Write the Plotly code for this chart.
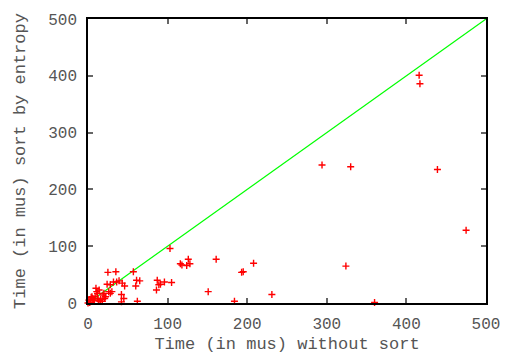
import plotly.graph_objects as go

# Time without sort (x) vs time sorted by entropy (y), in microseconds
time_without_sort = [
    416, 417, 439, 294, 330, 475, 161, 193, 195, 208, 324, 151, 184, 231, 360,
    103, 126, 116, 118, 128, 124, 87, 96, 91, 89, 105, 86, 65,
    25, 35, 57, 24, 28, 39, 43, 46, 60, 61, 14, 12, 10, 20, 26, 28, 42, 45, 42, 62,
    5, 1, 7, 16, 22, 0, 3, 12, 18, 32, 36, 30, 21, 19, 11, 4, 6, 8, 9, 2, 13, 15,
]
time_sort_entropy = [
    401, 386, 235, 243, 240, 128, 77, 54, 55, 70, 65, 20, 3, 15, 1,
    96, 77, 69, 67, 69, 66, 40, 37, 33, 32, 36, 23, 39,
    54, 55, 55, 33, 32, 39, 35, 30, 30, 40, 23, 17, 26, 17, 20, 17, 15, 8, 2, 3,
    11, 5, 5, 6, 11, 0, 2, 8, 3, 37, 37, 20, 8, 14, 20, 10, 8, 5, 12, 1, 4, 3,
]
diag_x = [0, 500]
diag_y = [0, 500]
tick_vals = [0, 100, 200, 300, 400, 500]

fig = go.Figure()
fig.add_trace(go.Scatter(
    x=diag_x, y=diag_y, mode="lines",
    line=dict(color="#00ff00", width=1.2),
    showlegend=False, hoverinfo="skip",
))
fig.add_trace(go.Scatter(
    x=time_without_sort, y=time_sort_entropy, mode="markers",
    marker=dict(symbol="cross-thin", size=5, line=dict(color="#ff0000", width=1.4), color="#ff0000"),
    cliponaxis=False, showlegend=False,
))

font_family = "Liberation Mono, Courier New, monospace"
axis_common = dict(
    range=[0, 500], tickvals=tick_vals, ticktext=[str(v) for v in tick_vals],
    showgrid=False, zeroline=False, showline=True, linecolor="black", linewidth=1.5,
    mirror="allticks", ticks="inside", ticklen=5, tickwidth=1.5, tickcolor="#666666",
    tickfont=dict(family=font_family, size=16, color="#555555"),
    title_font=dict(family=font_family, size=17, color="#555555"),
    automargin=False,
)
fig.update_xaxes(title_text="Time (in mus) without sort", ticklabelstandoff=5, **axis_common)
fig.update_yaxes(title_text="Time (in mus) sort by entropy", ticklabelstandoff=6,
                 title_standoff=18, **axis_common)

fig.update_layout(
    width=507, height=354,
    margin=dict(l=88, r=21, t=19, b=51),
    plot_bgcolor="white", paper_bgcolor="white",
)
fig.write_html("out.html", config={"displayModeBar": False},
               post_script="document.body.style.margin='0';")
